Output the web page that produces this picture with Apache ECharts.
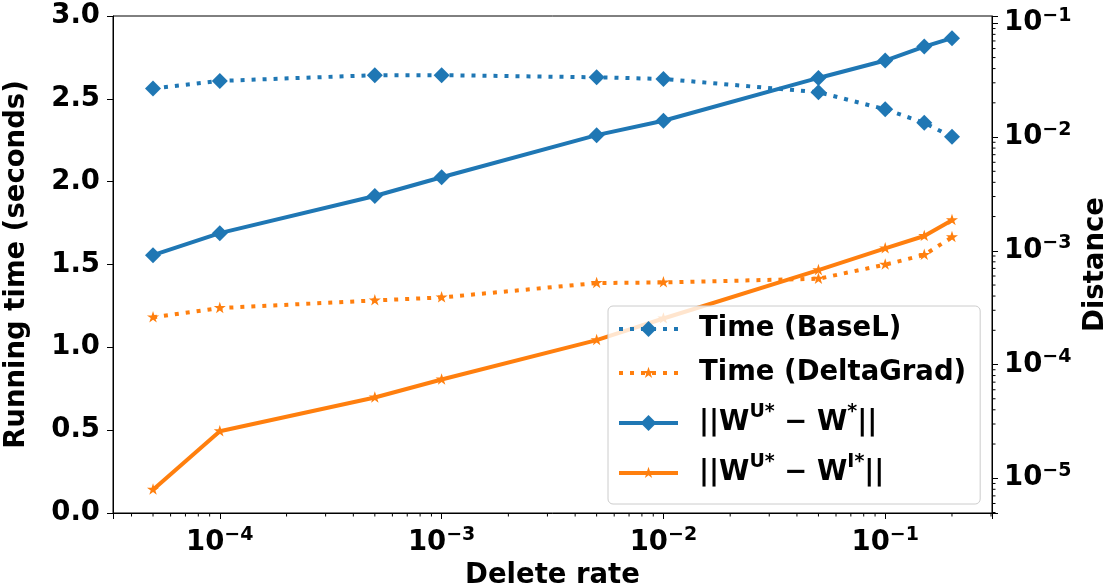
<!DOCTYPE html>
<html>
<head>
<meta charset="utf-8">
<script src="https://cdn.jsdelivr.net/npm/echarts@6.0.0/dist/echarts.min.js"></script>
<style>
html,body{margin:0;padding:0;background:#fff;}
#chart{width:1105px;height:584px;}
</style>
</head>
<body>
<div id="chart"></div>
<script>
// ---- data ----
const deleteRates = [5e-5, 1e-4, 5e-4, 1e-3, 5e-3, 1e-2, 5e-2, 1e-1, 1.5e-1, 2e-1];
const timeBaseL = [2.563, 2.608, 2.643, 2.643, 2.630, 2.620, 2.540, 2.437, 2.355, 2.271];
const timeDeltaGrad = [1.181, 1.237, 1.283, 1.301, 1.388, 1.392, 1.414, 1.499, 1.558, 1.665];
const distBaseL = [9.16e-4, 1.43e-3, 3.03e-3, 4.43e-3, 1.04e-2, 1.39e-2, 3.31e-2, 4.71e-2, 6.25e-2, 7.41e-2];
const distDeltaGrad = [7.94e-6, 2.59e-5, 5.13e-5, 7.38e-5, 1.64e-4, 2.54e-4, 6.76e-4, 1.05e-3, 1.35e-3, 1.86e-3];
const seriesNames = ['Time (BaseL)', 'Time (DeltaGrad)', '||WU* − W*||', '||WU* − WI*||'];
const leftTicks = [0.0, 0.5, 1.0, 1.5, 2.0, 2.5, 3.0];
const xMinorTicks = [4e-5, 5e-5, 6e-5, 7e-5, 8e-5, 9e-5,
  2e-4, 3e-4, 4e-4, 5e-4, 6e-4, 7e-4, 8e-4, 9e-4,
  2e-3, 3e-3, 4e-3, 5e-3, 6e-3, 7e-3, 8e-3, 9e-3,
  2e-2, 3e-2, 4e-2, 5e-2, 6e-2, 7e-2, 8e-2, 9e-2,
  2e-1, 3e-1];
const rightMinorTicks = [5e-6, 6e-6, 7e-6, 8e-6, 9e-6,
  2e-5, 3e-5, 4e-5, 5e-5, 6e-5, 7e-5, 8e-5, 9e-5,
  2e-4, 3e-4, 4e-4, 5e-4, 6e-4, 7e-4, 8e-4, 9e-4,
  2e-3, 3e-3, 4e-3, 5e-3, 6e-3, 7e-3, 8e-3, 9e-3,
  2e-2, 3e-2, 4e-2, 5e-2, 6e-2, 7e-2, 8e-2, 9e-2];

const X_MIN = 3.30e-5, X_MAX = 0.303;
const Y2_MIN = 4.95e-6, Y2_MAX = 0.116;

const BLUE = '#1f77b4', ORANGE = '#ff7f0e';
const FONT = 'DejaVu Sans';
const FS = 27.5;
const SUP = 19;
const DOTS = [4, 7];
const DIAMOND = 'path://M0,-1L1,0L0,1L-1,0Z';
const STAR = 'path://M-1.3,-1.3M1.3,1.3M0,-1L0.2245,-0.309L0.951,-0.309L0.363,0.118L0.588,0.809L0,0.382L-0.588,0.809L-0.363,0.118L-0.951,-0.309L-0.2245,-0.309Z';

function powLabel(v) {
  const l = Math.log10(v);
  const r = Math.round(l);
  if (Math.abs(l - r) > 1e-6) return '';
  return '{b|10}{s|' + String(r).replace('-', '−') + '}';
}
const tickRich = {
  b: {fontFamily: FONT, fontWeight: 'bold', fontSize: FS, lineHeight: 34, color: '#000'},
  s: {fontFamily: FONT, fontWeight: 'bold', fontSize: SUP, lineHeight: 22, color: '#000', verticalAlign: 'top'}
};

const legendRich = {
  t: {fontFamily: FONT, fontWeight: 'bold', fontSize: FS, lineHeight: 40, color: '#000'},
  s: {fontFamily: FONT, fontWeight: 'bold', fontSize: SUP, lineHeight: 24, color: '#000', verticalAlign: 'top'}
};
const legendText = {};
legendText[seriesNames[0]] = '{t|' + seriesNames[0] + '}';
legendText[seriesNames[1]] = '{t|' + seriesNames[1] + '}';
legendText[seriesNames[2]] = '{t|||W}{s|U*}{t| − W}{s|*}{t|||}';
legendText[seriesNames[3]] = '{t|||W}{s|U*}{t| − W}{s|I*}{t|||}';

function zip(xs, ys) { return xs.map((x, i) => [x, ys[i]]); }

const chart = echarts.init(document.getElementById('chart'), null, {renderer: 'canvas'});
const option = {
  animation: false,
  backgroundColor: '#fff',
  grid: {left: 113, right: 113, top: 16, bottom: 71, outerBoundsMode: 'none', containLabel: false,
    show: true, borderColor: '#000', borderWidth: 1, backgroundColor: 'transparent'},
  legend: {
    data: [
      {name: seriesNames[0], lineStyle: {width: 4, type: DOTS}},
      {name: seriesNames[1], lineStyle: {width: 4, type: DOTS}},
      {name: seriesNames[2], lineStyle: {width: 4, type: 'solid'}},
      {name: seriesNames[3], lineStyle: {width: 4, type: 'solid'}}
    ],
    orient: 'vertical',
    left: 608, top: 306,
    padding: [9, 14, 17, 9],
    itemWidth: 59, itemHeight: 20, itemGap: 16,
    backgroundColor: 'rgba(255,255,255,0.8)',
    borderColor: '#cccccc', borderWidth: 1, borderRadius: 5,
    lineStyle: {width: 4},
    formatter: n => legendText[n],
    textStyle: {rich: legendRich, padding: [0, 0, 0, 16]}
  },
  xAxis: {
    type: 'log', logBase: 10, min: X_MIN, max: X_MAX,
    name: 'Delete rate', nameLocation: 'middle', nameGap: 49,
    nameTextStyle: {fontFamily: FONT, fontWeight: 'bold', fontSize: FS, color: '#000'},
    axisLine: {lineStyle: {color: '#000', width: 1}},
    axisTick: {length: 6, lineStyle: {color: '#000', width: 1}},
    axisLabel: {formatter: powLabel, rich: tickRich, margin: 13, showMinLabel: true, showMaxLabel: true},
    splitLine: {show: false}
  },
  yAxis: [{
    type: 'value', min: 0, max: 3, interval: 0.5, position: 'left',
    name: 'Running time (seconds)', nameLocation: 'middle', nameGap: 82, nameRotate: 90,
    nameTextStyle: {fontFamily: FONT, fontWeight: 'bold', fontSize: FS, color: '#000'},
    axisLine: {show: true, lineStyle: {color: '#000', width: 1}},
    axisTick: {show: true, length: 6, lineStyle: {color: '#000', width: 1}},
    axisLabel: {formatter: v => v.toFixed(1), fontFamily: FONT, fontWeight: 'bold', fontSize: FS, color: '#000', margin: 13},
    splitLine: {show: false}
  }, {
    type: 'log', logBase: 10, min: Y2_MIN, max: Y2_MAX, position: 'right',
    name: 'Distance', nameLocation: 'middle', nameGap: 85, nameRotate: 90,
    nameTextStyle: {fontFamily: FONT, fontWeight: 'bold', fontSize: FS, color: '#000'},
    axisLine: {show: true, lineStyle: {color: '#000', width: 1}},
    axisTick: {show: true, length: 6, lineStyle: {color: '#000', width: 1}},
    axisLabel: {formatter: powLabel, rich: tickRich, margin: 12},
    splitLine: {show: false}
  }],
  series: [
    {
      name: seriesNames[0], type: 'line', xAxisIndex: 0, yAxisIndex: 0,
      data: zip(deleteRates, timeBaseL),
      symbol: DIAMOND, symbolSize: 16,
      lineStyle: {color: BLUE, width: 4, type: DOTS},
      itemStyle: {color: BLUE}, z: 2
    },
    {
      name: seriesNames[1], type: 'line', xAxisIndex: 0, yAxisIndex: 0,
      data: zip(deleteRates, timeDeltaGrad),
      symbol: STAR, symbolSize: 16.5,
      lineStyle: {color: ORANGE, width: 4, type: DOTS},
      itemStyle: {color: ORANGE}, z: 2
    },
    {
      name: seriesNames[2], type: 'line', xAxisIndex: 0, yAxisIndex: 1,
      data: zip(deleteRates, distBaseL),
      symbol: DIAMOND, symbolSize: 16,
      lineStyle: {color: BLUE, width: 4},
      itemStyle: {color: BLUE}, z: 3
    },
    {
      name: seriesNames[3], type: 'line', xAxisIndex: 0, yAxisIndex: 1,
      data: zip(deleteRates, distDeltaGrad),
      symbol: STAR, symbolSize: 16.5,
      lineStyle: {color: ORANGE, width: 4},
      itemStyle: {color: ORANGE}, z: 3
    },
    {
      type: 'custom', name: 'xminor', xAxisIndex: 0, yAxisIndex: 0, silent: true, clip: false,
      data: xMinorTicks.map(v => [v, 0]),
      renderItem: function (params, api) {
        const p = api.coord([api.value(0), api.value(1)]);
        return {type: 'line', shape: {x1: p[0], y1: p[1], x2: p[0], y2: p[1] + 3.5}, style: {stroke: '#000', lineWidth: 1}};
      }
    },
    {
      type: 'custom', name: 'yminor', xAxisIndex: 0, yAxisIndex: 1, silent: true, clip: false,
      data: rightMinorTicks.map(v => [X_MAX, v]),
      renderItem: function (params, api) {
        const p = api.coord([api.value(0), api.value(1)]);
        return {type: 'line', shape: {x1: p[0], y1: p[1], x2: p[0] + 3.5, y2: p[1]}, style: {stroke: '#000', lineWidth: 1}};
      }
    }
  ]
};
chart.setOption(option);
</script>
</body>
</html>
